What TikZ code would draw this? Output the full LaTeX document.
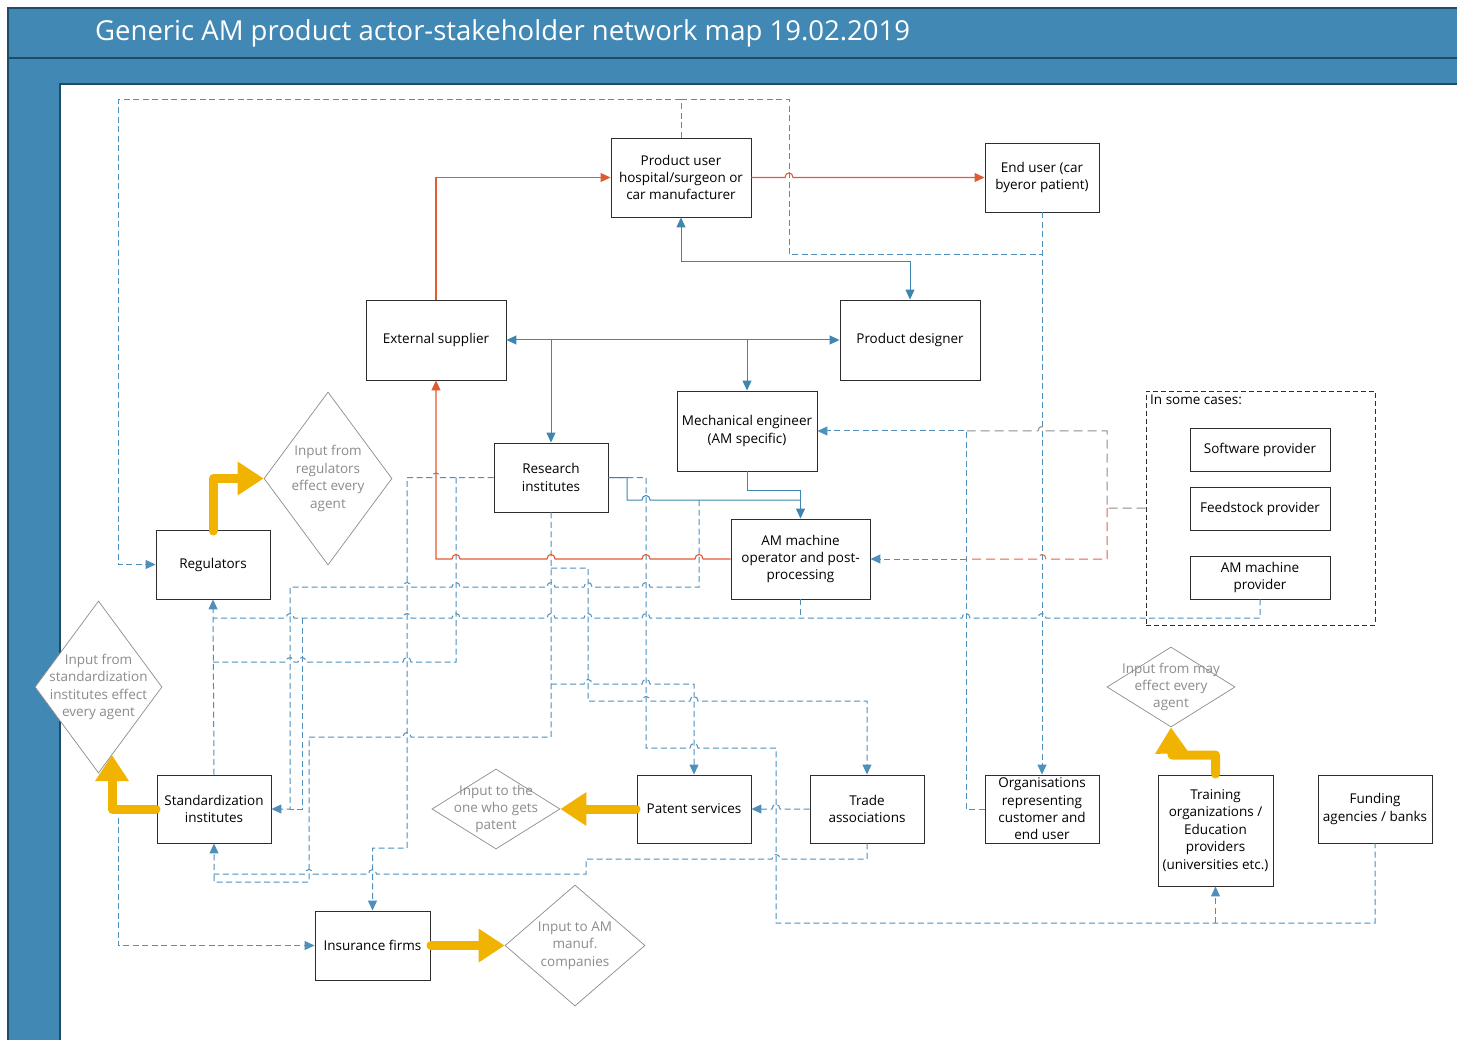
\documentclass[tikz,border=0pt]{standalone}
\usepackage{fontspec}
\setmainfont{Open Sans}
\usetikzlibrary{arrows.meta,shapes.geometric}
\definecolor{band}{RGB}{65,137,180}
\definecolor{bandline}{RGB}{30,75,105}
\definecolor{bluec}{RGB}{62,134,176}
\definecolor{dashc}{RGB}{78,143,188}
\definecolor{orangec}{RGB}{226,90,50}
\definecolor{yellowc}{RGB}{240,180,0}
\definecolor{diac}{RGB}{140,140,140}
\definecolor{boxc}{RGB}{45,45,45}
\definecolor{greyd}{RGB}{140,140,140}
\definecolor{orangedash}{RGB}{226,100,60}
\newcommand{\hopl}[2]{-- ({#1+4},#2) .. controls ({#1+4},{#2-6}) and ({#1-4},{#2-6}) .. ({#1-4},#2)}
\newcommand{\hopr}[2]{-- ({#1-4},#2) .. controls ({#1-4},{#2-6}) and ({#1+4},{#2-6}) .. ({#1+4},#2)}
\tikzset{
  box/.style={draw=boxc, line width=0.9pt, fill=white, align=center, inner sep=1pt, text=black, font=\fontsize{13.5}{17.4}\selectfont},
  dia/.style={draw=diac, shape=diamond, line width=0.7pt, inner sep=0pt, fill=white},
  dtext/.style={align=center, text=diac, inner sep=0pt, font=\fontsize{13.5}{17.4}\selectfont},
  oc/.style={draw=orangec, line width=1.1pt},
  bc/.style={draw=bluec, line width=1pt},
  dc/.style={draw=dashc, line width=1pt, dash pattern=on 6pt off 3.5pt},
  dg/.style={draw=greyd, line width=1pt, dash pattern=on 9pt off 5pt},
  dor/.style={draw=orangedash, line width=1pt, dash pattern=on 9pt off 5pt},
  tip/.style={-{Triangle[length=10pt,width=9pt]}},
  tiptwo/.style={{Triangle[length=10pt,width=9pt]}-{Triangle[length=10pt,width=9pt]}},
  yel/.style={draw=yellowc, line width=9pt, line cap=round, line join=round, -{Triangle[length=26pt,width=32pt]}}
}
\begin{document}
\begin{tikzpicture}[x=1pt,y=-1pt]
\useasboundingbox (0,0) rectangle (1457,1040);
\fill[white] (0,0) rectangle (1457,1040);
% bands
\fill[band] (8,8) rectangle (1457,84);
\fill[band] (8,84) rectangle (60,1040);
\draw[bandline, line width=1.2pt] (8,1040) -- (8,8) -- (1457,8);
\draw[bandline, line width=1.2pt] (8,58) -- (1457,58);
\draw[bandline, line width=1.2pt] (1457,84) -- (60,84) -- (60,1040);
\node[anchor=west, text=white, inner sep=0pt, font=\fontsize{27.5}{32}\selectfont] (title) at (95,33) {Generic AM product actor-stakeholder network map 19.02.2019};

% boxes
\node[box, minimum width=140pt, minimum height=79pt] (pu) at (681,177.5) {Product user\\hospital/surgeon or\\car manufacturer};
\node[box, minimum width=114pt, minimum height=69pt] (eu) at (1042,177.5) {End user (car\\byeror patient)};
\node[box, minimum width=140pt, minimum height=80pt] (ext) at (436,340) {External supplier};
\node[box, minimum width=140pt, minimum height=80pt] (pd) at (910,340) {Product designer};
\node[box, minimum width=140pt, minimum height=80pt] (me) at (747,431) {Mechanical engineer\\(AM specific)};
\node[box, minimum width=114pt, minimum height=69pt] (ri) at (551,477.5) {Research\\institutes};
\node[box, minimum width=139pt, minimum height=80pt] (amo) at (800.5,559) {AM machine\\operator and post-\\processing};
\node[box, minimum width=114pt, minimum height=69pt] (reg) at (213,564.5) {Regulators};
\node[draw=boxc, line width=0.9pt, dash pattern=on 5pt off 3pt, minimum width=229pt, minimum height=234pt, inner sep=0pt] (cases) at (1260.5,508) {};
\node[anchor=north west, inner sep=0pt, font=\fontsize{13.5}{17.4}\selectfont] (casest) at (1150,395) {In some cases:};
\node[box, minimum width=140pt, minimum height=43pt] (sw) at (1260,449.5) {Software provider};
\node[box, minimum width=140pt, minimum height=43pt] (fs) at (1260,508.5) {Feedstock provider};
\node[box, minimum width=140pt, minimum height=43pt] (amp) at (1260,577.5) {AM machine\\provider};
\node[box, minimum width=114pt, minimum height=68pt] (si) at (214,809) {Standardization\\institutes};
\node[box, minimum width=114pt, minimum height=68pt] (ps) at (694,809) {Patent services};
\node[box, minimum width=114pt, minimum height=68pt] (ta) at (867,809) {Trade\\associations};
\node[box, minimum width=114pt, minimum height=68pt] (org) at (1042,809) {Organisations\\representing\\customer and\\end user};
\node[box, minimum width=115pt, minimum height=111pt] (tr) at (1215.5,830.5) {Training\\organizations /\\Education\\providers\\(universities etc.)};
\node[box, minimum width=114pt, minimum height=68pt] (fu) at (1375,809) {Funding\\agencies / banks};
\node[box, minimum width=115pt, minimum height=69pt] (ins) at (372.5,945.5) {Insurance firms};

% diamonds
\node[dia, minimum width=128pt, minimum height=173pt] (dreg) at (328,478.5) {};
\node[dtext] (dregt) at (dreg.center) {Input from\\regulators\\effect every\\agent};
\node[dia, minimum width=127pt, minimum height=172pt] (dstd) at (98.5,687) {};
\node[dtext] (dstdt) at (dstd.center) {Input from\\standardization\\institutes effect\\every agent};
\node[dia, minimum width=128pt, minimum height=80pt] (dpat) at (496,809) {};
\node[dtext] (dpatt) at (dpat.center) {Input to the\\one who gets\\patent};
\node[dia, minimum width=128pt, minimum height=80pt] (dmay) at (1171,687) {};
\node[dtext] (dmayt) at (dmay.center) {Input from may\\effect every\\agent};
\node[dia, minimum width=140pt, minimum height=121pt] (dam) at (575,945.5) {};
\node[dtext] (damt) at (dam.center) {Input to AM\\manuf.\\companies};

% dashed blue connectors
\draw[dc,tip] (pu.north) -- (681,100) -- (118,100) -- (118,564.5) -- (reg.west);
\draw[dc] (681,100) -- (789,100) -- (789,255) -- (1042,255);
\draw[dc,tip] (eu.south) -- (org.north);
\draw[dc,tip] (org.west) -- (966,809) -- (966,431) -- (me.east);
\draw[dc,tip] (966,559) -- (amo.east);
\draw[dg] (cases.west) -- (1107,508) -- (1107,431) \hopl{1042}{431} -- (966,431);
\draw[dor] (1107,508) -- (1107,559) \hopl{1042}{559} -- (966,559);
\draw[dc] (amp.south) -- (1260,618) \hopl{1042}{618} \hopl{966}{618} -- (800.5,618) \hopl{646}{618} \hopl{588}{618} \hopl{551}{618} \hopl{456}{618} \hopl{407}{618} -- (302,618) \hopl{290}{618} -- (213,618);
\draw[dc] (amo.south) -- (800.5,618);
\draw[dc,tip] (si.north) -- (reg.south);
\draw[dc,tip] (ri.west) \hopl{436}{477.5} -- (407,477.5) -- (407,848) -- (372.5,848) -- (ins.north);
\draw[dc] (456,477.5) -- (456,662) \hopl{407}{662} \hopl{302}{662} \hopl{290}{662} -- (213,662);
\draw[dc] (ri.south) -- (551,737) \hopl{407}{737} -- (309,737) -- (309,882) -- (214,882) -- (214,874);
\draw[dc,tip] (551,684) \hopr{588}{684} \hopr{646}{684} -- (694,684) -- (ps.north);
\draw[dc,tip] (551,568) -- (588,568) -- (588,701) \hopr{646}{701} \hopr{694}{701} -- (867,701) -- (ta.north);
\draw[dc] (ri.east) -- (646,477.5) -- (646,748) \hopr{694}{748} -- (776,748) -- (776,923) -- (1375,923) -- (fu.south);
\draw[dc,tip] (1215.5,923) -- (tr.south);
\draw[dc,tip] (ta.west) \hopl{776}{809} -- (ps.east);
\draw[dc,tip] (ta.south) -- (867,859) \hopl{776}{859} -- (586,859) -- (586,874) \hopl{372.5}{874} \hopl{309}{874} -- (214,874) -- (si.south);
\draw[dc,tip] (699,500) -- (699,587) \hopl{646}{587} \hopl{588}{587} \hopl{551}{587} \hopl{456}{587} \hopl{407}{587} -- (290,587) -- (290,809) -- (si.east);
\draw[dc] (302,618) -- (302,809) -- (290,809);
\draw[dc,tip] (si.west) -- (118,809) -- (118,945.5) -- (ins.west);

% solid blue connectors
\draw[bc,tiptwo] (pu.south) -- (681,262) -- (910,262) -- (pd.north);
\draw[bc,tiptwo] (ext.east) -- (pd.west);
\draw[bc,tip] (551,340) -- (ri.north);
\draw[bc,tip] (747,340) -- (me.north);
\draw[bc,tip] (me.south) -- (747,490) -- (800.5,490) -- (amo.north);
\draw[bc] (ri.east) -- (627,477.5) -- (627,500) \hopr{646}{500} -- (800.5,500);

% orange connectors
\draw[oc,tip] (ext.north) |- (pu.west);
\draw[oc,tip] (pu.east) \hopr{789}{177.5} -- (eu.west);
\draw[oc,tip] (amo.west) \hopl{699}{559} \hopl{646}{559} \hopl{551}{559} \hopl{456}{559} -- (436,559) -- (ext.south);

% yellow arrows
\draw[yel] (213,531) -- (213,478.5) -- (dreg.west);
\draw[yel] (156,809) -- (112,809) -- (112,755);
\draw[yel] (636,809) -- (dpat.east);
\draw[yel] (431,945.5) -- (dam.west);
\draw[yel] (1215.5,774) -- (1215.5,755) -- (1172,755) -- (dmay.south);
\end{tikzpicture}
\end{document}
